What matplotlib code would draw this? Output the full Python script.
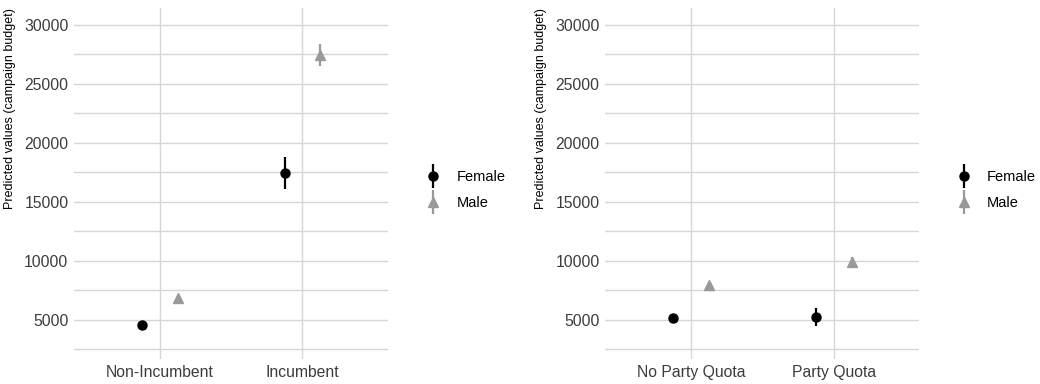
import matplotlib
matplotlib.use("Agg")
import matplotlib.pyplot as plt
from matplotlib.lines import Line2D
import numpy as np

plt.rcParams["font.family"] = ["Liberation Sans", "DejaVu Sans"]

# panel 1: incumbency
cats1 = ["Non-Incumbent", "Incumbent"]
fem1 = [4500, 17450]
fem1_lo = [4250, 16050]
fem1_hi = [4750, 18800]
male1 = [6800, 27400]
male1_lo = [6550, 26450]
male1_hi = [7050, 28350]

# panel 2: party quota
cats2 = ["No Party Quota", "Party Quota"]
fem2 = [5150, 5200]
fem2_lo = [4950, 4450]
fem2_hi = [5350, 5950]
male2 = [7950, 9850]
male2_lo = [7750, 9350]
male2_hi = [8150, 10300]

ylabel = "Predicted values (campaign budget)"
grid_col = "#d6d6d6"
text_col = "#3c3c3c"
male_col = "#999999"

fig = plt.figure(figsize=(10.4, 3.84), dpi=100)
ax1 = fig.add_axes([0.0712, 0.065, 0.302, 0.914])
ax2 = fig.add_axes([0.582, 0.065, 0.302, 0.914])


def panel(ax, cats, fm, flo, fhi, mm, mlo, mhi, legx):
    x = np.arange(len(cats)) + 1
    d = 0.125
    fm, flo, fhi = np.array(fm), np.array(flo), np.array(fhi)
    mm, mlo, mhi = np.array(mm), np.array(mlo), np.array(mhi)
    ax.errorbar(x - d, fm, yerr=[fm - flo, fhi - fm], fmt="o", color="black",
                ms=6.5, elinewidth=1.6, capsize=0, zorder=3)
    ax.errorbar(x + d, mm, yerr=[mm - mlo, mhi - mm], fmt="^", color=male_col,
                ms=7.5, elinewidth=1.6, capsize=0, zorder=3)
    ax.set_xlim(0.4, 2.6)
    ax.set_ylim(1650, 31400)
    ax.set_xticks(x)
    ax.set_xticklabels(cats)
    ax.set_yticks([5000, 10000, 15000, 20000, 25000, 30000])
    ax.set_yticks([2500, 7500, 12500, 17500, 22500, 27500], minor=True)
    ax.grid(True, which="major", color=grid_col, lw=1.0)
    ax.grid(True, which="minor", axis="y", color=grid_col, lw=1.0)
    ax.set_axisbelow(True)
    for s in ax.spines.values():
        s.set_visible(False)
    ax.tick_params(which="both", length=0, labelsize=11.3, colors=text_col, pad=4)
    ax.set_ylabel(ylabel, fontsize=9, color="black")
    ax.yaxis.set_label_coords(-0.185, 0.715)

    # legend keys: point with a vertical bar through it
    hf = (Line2D([], [], ls="none", marker="|", ms=17, mew=1.6, color="black"),
          Line2D([], [], ls="none", marker="o", ms=6.5, color="black"))
    hm = (Line2D([], [], ls="none", marker="|", ms=17, mew=1.6, color=male_col),
          Line2D([], [], ls="none", marker="^", ms=7.5, color=male_col))
    fig.legend([hf, hm], ["Female", "Male"], loc="center left",
               bbox_to_anchor=(legx, 0.505), frameon=False, fontsize=10.5,
               handlelength=1.0, handletextpad=1.1, labelspacing=0.85)


panel(ax1, cats1, fem1, fem1_lo, fem1_hi, male1, male1_lo, male1_hi, 0.397)
panel(ax2, cats2, fem2, fem2_lo, fem2_hi, male2, male2_lo, male2_hi, 0.907)

fig.savefig("out.png", dpi=100)
